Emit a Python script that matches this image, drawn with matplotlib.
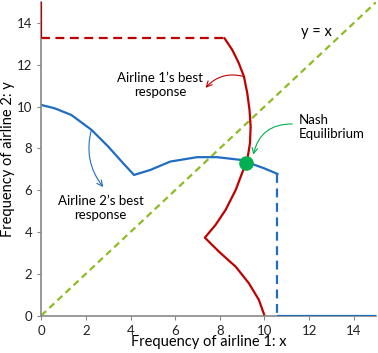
import numpy as np
import matplotlib.pyplot as plt

plt.rcParams['font.family'] = ['Lato', 'DejaVu Sans']

# best response of airline 1 (x as function of y)
r1_x = [8.21, 8.56, 8.85, 9.08, 9.23, 9.33, 9.38, 9.35, 9.23, 9.08, 8.71, 8.26, 7.81,
        7.33, 7.96, 8.71, 9.30, 9.75, 10.0]
r1_y = [13.27, 12.71, 12.08, 11.44, 10.64, 9.84, 9.04, 8.25, 7.45, 7.05, 6.01, 5.06, 4.34,
        3.73, 3.06, 2.34, 1.55, 0.75, 0.0]
r1_jump = 13.27

# best response of airline 2 (y as function of x)
r2_x = [0.0, 0.6, 1.35, 2.25, 3.0, 3.67, 4.16, 4.89, 5.78, 6.98, 7.88, 8.93, 9.98, 10.58]
r2_y = [10.08, 9.92, 9.6, 8.89, 8.09, 7.29, 6.73, 6.97, 7.37, 7.58, 7.58, 7.45, 7.05, 6.78]
r2_jump = 10.58

nash = (9.16, 7.32)
lim = 15

red = '#C00000'
blue = '#1F6DC2'
green_line = '#8DBB25'
green_dot = '#00B050'

fig = plt.figure(figsize=(3.78, 3.53), dpi=100)
ax = fig.add_axes([0.109, 0.106, 0.886, 0.888])

# y = x
ax.plot([0, lim], [0, lim], ls=(0, (3, 2)), color=green_line, lw=1.6)

# airline 1
ax.plot([0, 0], [r1_jump, lim], color=red, lw=1.6, solid_capstyle='butt', zorder=3)
ax.plot([0, r1_x[0]], [r1_jump, r1_jump], ls=(0, (4, 2.5)), color=red, lw=1.6)
ax.plot(r1_x, r1_y, color=red, lw=1.6)

# airline 2
ax.plot(r2_x, r2_y, color=blue, lw=1.6)
ax.plot([r2_jump, r2_jump], [r2_y[-1], 0], ls=(0, (4, 2.5)), color=blue, lw=1.6)
ax.plot([r2_jump, lim], [0, 0], color=blue, lw=1.6, solid_capstyle='butt', zorder=3)

ax.plot(*nash, 'o', color=green_dot, ms=9.5, zorder=5)

ax.text(5.33, 11.05, "Airline 1\u2019s best\nresponse", ha='center', va='center', fontsize=9.5)
ax.annotate("", xy=(7.36, 10.9), xytext=(9.08, 11.44),
            arrowprops=dict(arrowstyle='->', color=red, lw=0.8,
                            shrinkA=0, shrinkB=0,
                            connectionstyle='arc3,rad=0.3'))
ax.text(2.66, 5.15, "Airline 2\u2019s best\nresponse", ha='center', va='center', fontsize=9.5)
ax.annotate("", xy=(2.78, 6.15), xytext=(2.25, 8.89),
            arrowprops=dict(arrowstyle='->', color=blue, lw=0.8,
                            shrinkA=0, shrinkB=0,
                            connectionstyle='arc3,rad=0.25'))
ax.text(11.55, 9.04, "Nash\nEquilibrium", ha='left', va='center', fontsize=9.5)
ax.annotate("", xy=(9.5, 7.7), xytext=(11.24, 9.17),
            arrowprops=dict(arrowstyle='->', color=green_dot, lw=0.8,
                            shrinkA=0, shrinkB=0,
                            connectionstyle='arc3,rad=0.4'))
ax.text(12.34, 13.55, "y = x", ha='center', va='center', fontsize=10.5)

ax.set_xlim(0, lim)
ax.set_ylim(0, lim)
ax.set_xticks(np.arange(0, 15, 2))
ax.set_yticks(np.arange(0, 15, 2))
ax.tick_params(labelsize=9.5, length=3, color='#888888', labelcolor='#222222')
for s in ['top', 'right']:
    ax.spines[s].set_visible(False)
for s in ['left', 'bottom']:
    ax.spines[s].set_color('#888888')
    ax.spines[s].set_linewidth(1.2)
ax.set_xlabel("Frequency of airline 1: x", fontsize=10.5)
ax.set_ylabel("Frequency of airline 2: y", fontsize=10.5)
ax.xaxis.set_label_coords(0.5, -0.063)
ax.yaxis.set_label_coords(-0.078, 0.5)

fig.savefig('out.png', dpi=100)
